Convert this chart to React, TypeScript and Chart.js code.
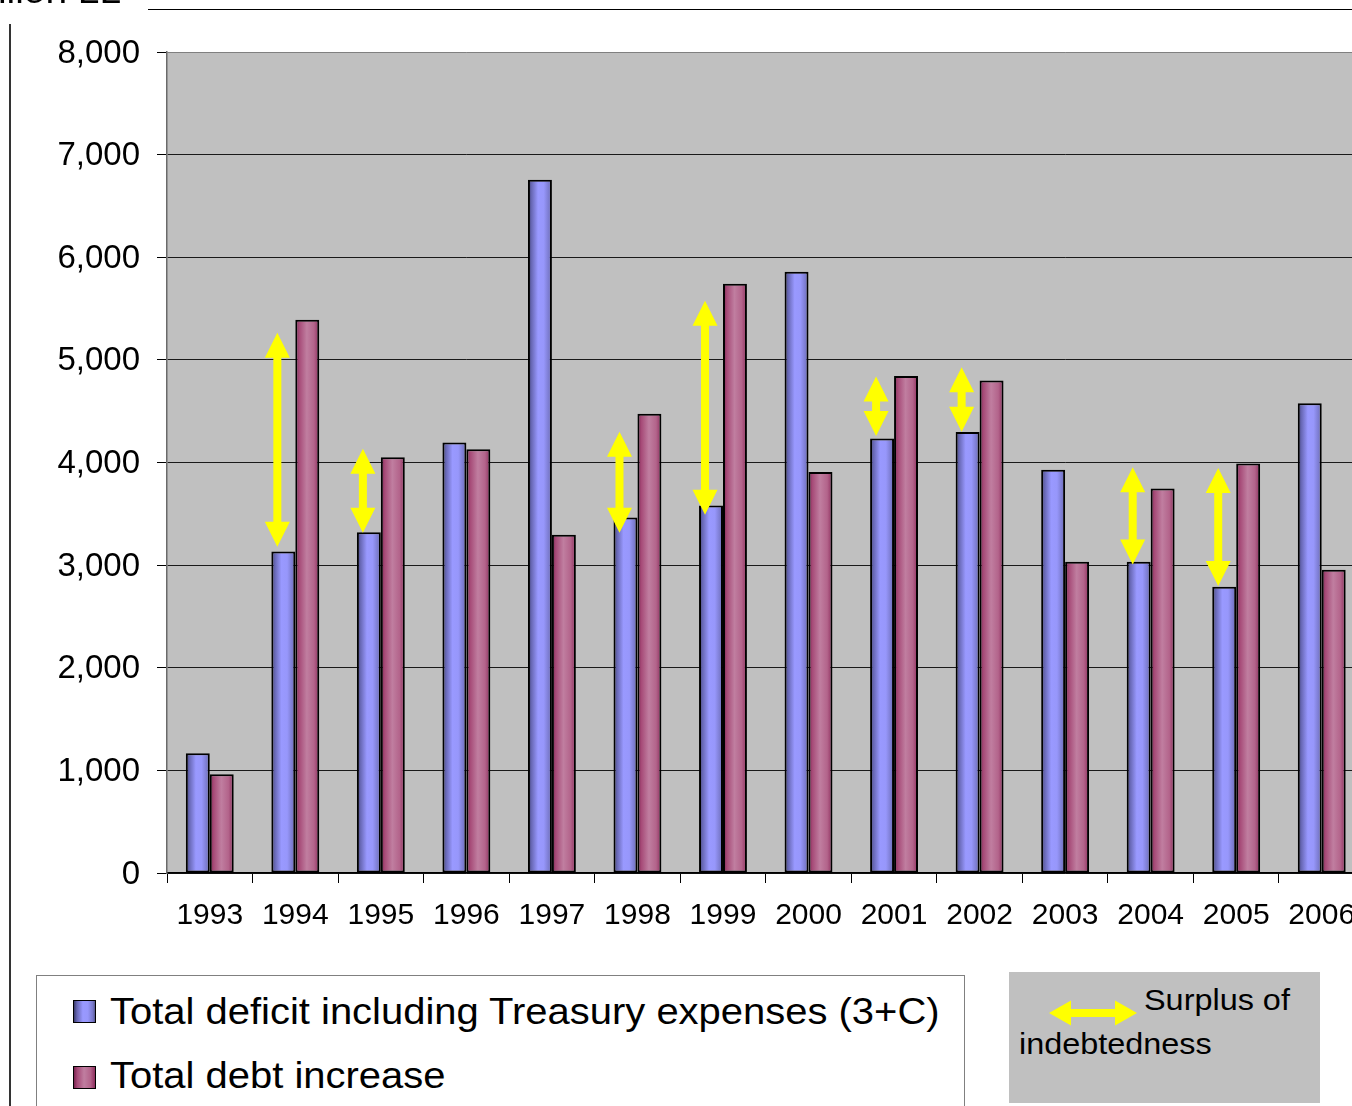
import React, { useEffect, useRef } from "react";
import { Chart, registerables } from "chart.js";

Chart.register(...registerables);

const years = ["1993", "1994", "1995", "1996", "1997", "1998", "1999", "2000", "2001", "2002", "2003", "2004", "2005", "2006"];
const totalDeficit = [1167, 3132, 3320, 4195, 6755, 3465, 3580, 5858, 4235, 4298, 3930, 3034, 2790, 4578];
const totalDebtIncrease = [962, 5390, 4050, 4130, 3295, 4475, 5741, 3908, 4844, 4800, 3034, 3746, 3990, 2955];

const yTicks = [0, 1000, 2000, 3000, 4000, 5000, 6000, 7000, 8000];

// Surplus of indebtedness arrows (from / to values)
const arrowYears = ["1994", "1995", "1998", "1999", "2001", "2002", "2004", "2005"];
const arrowTop = [5265, 4135, 4300, 5575, 4837, 4929, 3953, 3947];
const arrowBottom = [3180, 3315, 3315, 3490, 4259, 4300, 3005, 2797];

const seriesLabels = ["Total deficit including Treasury expenses (3+C)", "Total debt increase"];

const FONT = "'Liberation Sans', Arial, Helvetica, sans-serif";

const blueStops: [number, string][] = [
  [0, "#3a3a6c"],
  [0.14, "#6666b2"],
  [0.42, "#9999ff"],
  [0.66, "#9797fb"],
  [0.9, "#7777c8"],
  [1, "#56568f"],
];
const redStops: [number, string][] = [
  [0, "#7a2350"],
  [0.16, "#a64a77"],
  [0.48, "#c07ea0"],
  [0.78, "#b3648b"],
  [1, "#8d2e5d"],
];

const CAT_FRACTION = 0.56;
const STRETCH = "scaleX(1.08)";

function gradFill(stops: [number, string][], fallback: string) {
  return (c: any) => {
    const chart = c.chart;
    const xs = chart.scales && chart.scales.x;
    if (!xs || c.type !== "data" || !xs.width) return fallback;
    const center = xs.getPixelForValue(c.dataIndex);
    const catW = xs.width / years.length;
    const barW = (catW * CAT_FRACTION) / 2;
    const left = center - (catW * CAT_FRACTION) / 2 + c.datasetIndex * barW;
    const g = chart.ctx.createLinearGradient(left, 0, left + barW, 0);
    stops.forEach(([o, col]) => g.addColorStop(o, col));
    return g;
  };
}

function drawVArrow(ctx: CanvasRenderingContext2D, cx: number, yTop: number, yBot: number) {
  const len = yBot - yTop;
  const h = Math.min(25, len * 0.42);
  const hw = 12.5;
  const sw = 4;
  ctx.beginPath();
  ctx.moveTo(cx, yTop);
  ctx.lineTo(cx + hw, yTop + h);
  ctx.lineTo(cx + sw, yTop + h);
  ctx.lineTo(cx + sw, yBot - h);
  ctx.lineTo(cx + hw, yBot - h);
  ctx.lineTo(cx, yBot);
  ctx.lineTo(cx - hw, yBot - h);
  ctx.lineTo(cx - sw, yBot - h);
  ctx.lineTo(cx - sw, yTop + h);
  ctx.lineTo(cx - hw, yTop + h);
  ctx.closePath();
  ctx.fillStyle = "#ffff00";
  ctx.fill();
}

const plotBgPlugin = {
  id: "plotBg",
  beforeDraw(chart: any) {
    const { ctx, chartArea } = chart;
    if (!chartArea) return;
    ctx.save();
    ctx.fillStyle = "#c0c0c0";
    ctx.fillRect(chartArea.left, chartArea.top, chartArea.right - chartArea.left, chartArea.bottom - chartArea.top);
    ctx.restore();
  },
};

const arrowsPlugin = {
  id: "surplusArrows",
  afterDatasetsDraw(chart: any) {
    const { ctx } = chart;
    const xs = chart.scales.x;
    const ys = chart.scales.y;
    const catW = xs.width / years.length;
    ctx.save();
    arrowYears.forEach((yr, i) => {
      const idx = years.indexOf(yr);
      const cx = xs.getPixelForValue(idx) - catW * 0.21;
      drawVArrow(ctx, cx, ys.getPixelForValue(arrowTop[i]), ys.getPixelForValue(arrowBottom[i]));
    });
    ctx.restore();
  },
};

function BarChart() {
  const ref = useRef<HTMLCanvasElement | null>(null);
  useEffect(() => {
    if (!ref.current) return;
    const chart = new Chart(ref.current, {
      type: "bar",
      data: {
        labels: years,
        datasets: [
          {
            label: seriesLabels[0],
            data: totalDeficit,
            backgroundColor: gradFill(blueStops, "#9999ff"),
            borderColor: "#000000",
            borderWidth: 2,
            borderSkipped: false,
            categoryPercentage: CAT_FRACTION,
            barPercentage: 1,
          },
          {
            label: seriesLabels[1],
            data: totalDebtIncrease,
            backgroundColor: gradFill(redStops, "#993366"),
            borderColor: "#000000",
            borderWidth: 2,
            borderSkipped: false,
            categoryPercentage: CAT_FRACTION,
            barPercentage: 1,
          },
        ],
      },
      options: {
        responsive: false,
        animation: false,
        events: [],
        locale: "en-US",
        layout: { padding: { left: 0, top: 52, right: 15.5, bottom: 0 } },
        plugins: {
          legend: { display: false },
          tooltip: { enabled: false },
          title: { display: false },
        },
        scales: {
          x: {
            offset: true,
            afterFit: (s: any) => {
              s.height = 87;
            },
            grid: {
              offset: true,
              drawOnChartArea: false,
              drawTicks: true,
              tickLength: 10,
              tickColor: "#000000",
              tickWidth: 1,
            },
            border: { display: true, color: "#000000", width: 1.5 },
            ticks: {
              color: "#000000",
              font: { family: FONT, size: 30 },
              padding: 15,
              maxRotation: 0,
              autoSkip: false,
            },
          },
          y: {
            min: 0,
            max: 8000,
            afterFit: (s: any) => {
              s.width = 167;
            },
            afterBuildTicks: (s: any) => {
              s.ticks = yTicks.map((v) => ({ value: v }));
            },
            grid: {
              color: (c: any) => (c.tick && c.tick.value === 8000 ? "#808080" : "#1a1a1a"),
              lineWidth: 1,
              drawTicks: true,
              tickLength: 10,
              tickColor: "#000000",
            },
            border: { display: true, color: "#6a6a6a", width: 1.5 },
            ticks: {
              color: "#000000",
              font: { family: FONT, size: 33 },
              padding: 17,
              labelOffset: 1.5,
              stepSize: 1000,
            },
          },
        },
      },
      plugins: [plotBgPlugin, arrowsPlugin],
    });
    return () => chart.destroy();
  }, []);
  return <canvas ref={ref} width={1380} height={960} style={{ position: "absolute", left: 0, top: 0, width: 1380, height: 960 }} />;
}

function Swatch({ stops, top }: { stops: [number, string][]; top: number }) {
  const bg = `linear-gradient(to right, ${stops.map(([o, c]) => `${c} ${o * 100}%`).join(", ")})`;
  return (
    <div
      style={{
        position: "absolute",
        left: 73,
        top,
        width: 21,
        height: 21,
        background: bg,
        border: "1px solid #000",
      }}
    />
  );
}

const textBase: React.CSSProperties = {
  position: "absolute",
  whiteSpace: "nowrap",
  color: "#000",
  transform: STRETCH,
  transformOrigin: "left top",
};

export default function App() {
  return (
    <div
      style={{
        position: "fixed",
        left: 0,
        top: 0,
        width: 1352,
        height: 1106,
        overflow: "hidden",
        background: "#ffffff",
        fontFamily: FONT,
      }}
    >
      <BarChart />
      {/* cut-off unit label */}
      <div
        style={{
          position: "absolute",
          right: 1352 - 121,
          top: -27,
          fontSize: 36,
          lineHeight: "36px",
          color: "#000",
          whiteSpace: "nowrap",
          transform: STRETCH,
          transformOrigin: "right top",
        }}
      >
        Billion LL
      </div>
      {/* frame lines */}
      <div style={{ position: "absolute", left: 148, top: 9, width: 1204, height: 1, background: "#000" }} />
      <div style={{ position: "absolute", left: 9, top: 24, width: 1.5, height: 1082, background: "#333" }} />
      {/* legend */}
      <div
        style={{
          position: "absolute",
          left: 36,
          top: 975,
          width: 929,
          height: 200,
          border: "1px solid #808080",
          background: "#fff",
          boxSizing: "border-box",
        }}
      />
      <Swatch stops={blueStops} top={1000} />
      <Swatch stops={redStops} top={1066} />
      <div style={{ ...textBase, left: 110, top: 992.6, fontSize: 37, lineHeight: "37px" }}>{seriesLabels[0]}</div>
      <div style={{ ...textBase, left: 110, top: 1057, fontSize: 37, lineHeight: "37px" }}>{seriesLabels[1]}</div>
      {/* surplus note box */}
      <div style={{ position: "absolute", left: 1009, top: 972, width: 311, height: 131, background: "#c0c0c0" }} />
      <svg style={{ position: "absolute", left: 1040, top: 995 }} width={110} height={40}>
        <polygon points="9,18 31,5.5 31,14 75,14 75,5.5 97,18 75,30.5 75,22 31,22 31,30.5" fill="#ffff00" />
      </svg>
      <div style={{ ...textBase, left: 1144, top: 984.6, fontSize: 30, lineHeight: "30px" }}>Surplus of</div>
      <div style={{ ...textBase, left: 1019, top: 1028.6, fontSize: 30, lineHeight: "30px" }}>indebtedness</div>
    </div>
  );
}
